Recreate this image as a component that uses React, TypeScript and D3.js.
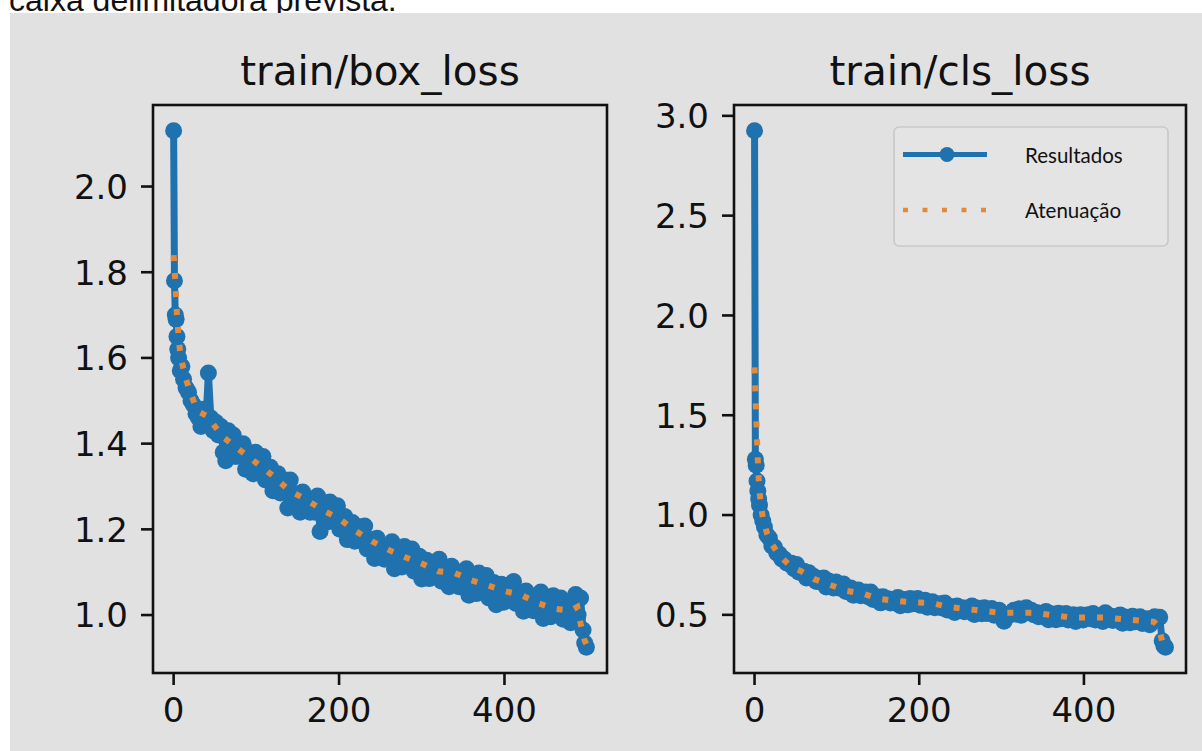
import React from 'react'
import * as d3 from 'd3'

const epochs = [
  0, 1, 2, 3, 4, 5, 6, 8, 10, 12,
  15, 18, 21, 24, 27, 30, 33, 36, 39, 42,
  45, 48, 51, 54, 57, 60, 63, 66, 69, 72,
  75, 78, 81, 84, 87, 90, 93, 96, 99, 102,
  105, 108, 111, 114, 117, 120, 123, 126, 129, 132,
  135, 138, 141, 144, 147, 150, 153, 156, 159, 162,
  165, 168, 171, 174, 177, 180, 183, 186, 189, 192,
  195, 198, 201, 204, 207, 210, 213, 216, 219, 222,
  225, 228, 231, 234, 237, 240, 243, 246, 249, 252,
  255, 258, 261, 264, 267, 270, 273, 276, 279, 282,
  285, 288, 291, 294, 297, 300, 303, 306, 309, 312,
  315, 318, 321, 324, 327, 330, 333, 336, 339, 342,
  345, 348, 351, 354, 357, 360, 363, 366, 369, 372,
  375, 378, 381, 384, 387, 390, 393, 396, 399, 402,
  405, 408, 411, 414, 417, 420, 423, 426, 429, 432,
  435, 438, 441, 444, 447, 450, 453, 456, 459, 462,
  465, 468, 471, 474, 477, 480, 483, 486, 489, 492,
  495, 497, 499,
]

const boxLoss = [
  2.13, 1.78, 1.70, 1.69, 1.65, 1.62, 1.60, 1.57, 1.58, 1.55,
  1.53, 1.52, 1.50, 1.49, 1.47, 1.46, 1.44, 1.48, 1.45, 1.565,
  1.46, 1.43, 1.45, 1.42, 1.44, 1.38, 1.36, 1.43, 1.39, 1.42,
  1.37, 1.40, 1.37, 1.40, 1.34, 1.38, 1.36, 1.33, 1.38, 1.34,
  1.355, 1.37, 1.315, 1.32, 1.345, 1.29, 1.325, 1.33, 1.285, 1.30,
  1.315, 1.25, 1.315, 1.26, 1.277, 1.283, 1.24, 1.287, 1.255, 1.272,
  1.24, 1.265, 1.24, 1.278, 1.195, 1.262, 1.24, 1.217, 1.264, 1.22,
  1.238, 1.255, 1.20, 1.205, 1.23, 1.176, 1.21, 1.216, 1.172, 1.19,
  1.206, 1.172, 1.208, 1.154, 1.17, 1.176, 1.132, 1.179, 1.146, 1.163,
  1.13, 1.157, 1.134, 1.171, 1.108, 1.156, 1.134, 1.112, 1.16, 1.118,
  1.136, 1.154, 1.102, 1.11, 1.137, 1.084, 1.121, 1.128, 1.085, 1.102,
  1.12, 1.09, 1.13, 1.079, 1.098, 1.107, 1.066, 1.114, 1.08, 1.098,
  1.066, 1.093, 1.07, 1.108, 1.046, 1.094, 1.072, 1.05, 1.098, 1.056,
  1.074, 1.092, 1.04, 1.048, 1.076, 1.024, 1.063, 1.072, 1.03, 1.05,
  1.07, 1.039, 1.078, 1.027, 1.045, 1.052, 1.009, 1.056, 1.023, 1.04,
  1.01, 1.038, 1.016, 1.054, 0.992, 1.04, 1.018, 0.996, 1.045, 1.004,
  1.022, 1.04, 0.99, 1.0, 1.03, 0.982, 1.025, 1.048, 1.0, 1.04,
  0.965, 0.935, 0.925,
]

const clsLoss = [
  2.925, 1.28, 1.25, 1.17, 1.12, 1.08, 1.05, 1.00, 0.97, 0.94,
  0.90, 0.885, 0.845, 0.84, 0.81, 0.805, 0.78, 0.78, 0.76, 0.755,
  0.758, 0.731, 0.752, 0.713, 0.72, 0.719, 0.685, 0.711, 0.685, 0.692,
  0.667, 0.682, 0.663, 0.685, 0.64, 0.669, 0.652, 0.635, 0.665, 0.635,
  0.645, 0.654, 0.617, 0.619, 0.635, 0.598, 0.622, 0.625, 0.596, 0.606,
  0.615, 0.591, 0.614, 0.577, 0.586, 0.59, 0.56, 0.591, 0.569, 0.581,
  0.559, 0.577, 0.561, 0.587, 0.546, 0.578, 0.564, 0.55, 0.582, 0.555,
  0.569, 0.582, 0.548, 0.554, 0.573, 0.538, 0.562, 0.565, 0.536, 0.546,
  0.556, 0.534, 0.559, 0.524, 0.535, 0.54, 0.512, 0.544, 0.523, 0.536,
  0.515, 0.534, 0.518, 0.544, 0.502, 0.534, 0.52, 0.505, 0.536, 0.507,
  0.52, 0.532, 0.498, 0.503, 0.523, 0.49, 0.468, 0.49, 0.497, 0.51,
  0.523, 0.503, 0.53, 0.498, 0.511, 0.535, 0.522, 0.523, 0.501, 0.512,
  0.49, 0.508, 0.492, 0.517, 0.475, 0.506, 0.491, 0.476, 0.508, 0.48,
  0.494, 0.507, 0.474, 0.48, 0.5, 0.467, 0.494, 0.5, 0.474, 0.487,
  0.5, 0.48, 0.507, 0.474, 0.487, 0.494, 0.467, 0.51, 0.498, 0.494,
  0.472, 0.49, 0.474, 0.499, 0.458, 0.489, 0.475, 0.461, 0.493, 0.465,
  0.478, 0.49, 0.457, 0.462, 0.481, 0.45, 0.473, 0.49, 0.48, 0.488,
  0.37, 0.345, 0.338,
]

// smoothed ("Atenuação") curves, read separately
const boxSmoothEpochs = [0, 2, 4, 6, 8, 10, 15, 20, 25, 30, 40, 50, 60, 70, 80, 90, 100, 120, 140, 160, 180, 200, 220, 240, 260, 280, 300, 320, 340, 360, 380, 400, 420, 440, 460, 480, 488, 492, 497, 499]
const boxSmooth = [1.84, 1.78, 1.70, 1.65, 1.61, 1.59, 1.55, 1.52, 1.495, 1.475, 1.465, 1.44, 1.415, 1.40, 1.385, 1.37, 1.355, 1.325, 1.29, 1.27, 1.245, 1.225, 1.196, 1.172, 1.152, 1.135, 1.12, 1.102, 1.098, 1.081, 1.069, 1.056, 1.047, 1.028, 1.015, 1.01, 1.019, 0.98, 0.94, 0.932]

const clsSmoothEpochs = [0, 1, 2, 3, 4, 5, 6, 8, 10, 15, 20, 25, 30, 37, 45, 56, 72, 92, 112, 131, 152, 172, 193, 214, 235, 256, 277, 300, 321, 342, 363, 384, 405, 426, 447, 470, 485, 490, 495, 499]
const clsSmooth = [1.74, 1.62, 1.50, 1.38, 1.27, 1.19, 1.12, 1.04, 0.99, 0.91, 0.86, 0.83, 0.80, 0.77, 0.74, 0.72, 0.68, 0.65, 0.62, 0.607, 0.58, 0.57, 0.562, 0.56, 0.54, 0.53, 0.52, 0.51, 0.51, 0.51, 0.497, 0.487, 0.487, 0.487, 0.478, 0.47, 0.465, 0.445, 0.37, 0.35]

const xTicks = [0, 200, 400]
const boxTicks = [1.0, 1.2, 1.4, 1.6, 1.8, 2.0]
const clsTicks = [0.5, 1.0, 1.5, 2.0, 2.5, 3.0]
const legendLabels = ['Resultados', 'Atenuação']

const BLUE = '#1f72ae'
const ORANGE = '#e3893a'
const BG = '#e1e1e1'
const FONT = 'DejaVu Sans'

const pad = ([a, b]: [number, number]): [number, number] => {
  const m = (b - a) * 0.05
  return [a - m, b + m]
}

const Panel = ({ id, left, right, title, values, smoothX, smoothY, yTicks, children }: any) => {
  const top = 105
  const bottom = 673
  const x = d3.scaleLinear().domain(pad(d3.extent(epochs) as [number, number])).range([left, right])
  const y = d3.scaleLinear().domain(pad(d3.extent(values as number[]) as [number, number])).range([bottom, top])
  const raw = d3.line<number>().x((_, i) => x(epochs[i])).y(d => y(d))(values)
  const smooth = d3.line<number>().x((_, i) => x(smoothX[i])).y(d => y(d))(smoothY)
  const fmt = d3.format('.1f')
  return (
    <g>
      <defs>
        <clipPath id={id}>
          <rect x={left} y={top} width={right - left} height={bottom - top} />
        </clipPath>
      </defs>
      <text x={(left + right) / 2} y={85} textAnchor="middle" fontFamily={FONT} fontSize={40.5} fill="#111">{title}</text>
      <g clipPath={`url(#${id})`}>
        <path d={raw!} fill="none" stroke={BLUE} strokeWidth={7} strokeLinejoin="round" />
        {values.map((v: number, i: number) => (
          <circle key={i} cx={x(epochs[i])} cy={y(v)} r={8.5} fill={BLUE} />
        ))}
        <path d={smooth!} fill="none" stroke={ORANGE} strokeWidth={6} strokeDasharray="6 12" />
      </g>
      <rect x={left} y={top} width={right - left} height={bottom - top} fill="none" stroke="#111" strokeWidth={2.6} />
      {yTicks.map((t: number) => (
        <g key={t}>
          <line x1={left - 12} x2={left} y1={y(t)} y2={y(t)} stroke="#111" strokeWidth={2.6} />
          <text x={left - 25} y={y(t)} dy={12.4} textAnchor="end" fontFamily={FONT} fontSize={34} fill="#111">{fmt(t)}</text>
        </g>
      ))}
      {xTicks.map(t => (
        <g key={t}>
          <line x1={x(t)} x2={x(t)} y1={bottom} y2={bottom + 12} stroke="#111" strokeWidth={2.6} />
          <text x={x(t)} y={722} textAnchor="middle" fontFamily={FONT} fontSize={34} fill="#111">{t}</text>
        </g>
      ))}
      {children}
    </g>
  )
}

const Legend = () => (
  <g>
    <rect x={894} y={127} width={274} height={119} rx={5} fill="#e4e4e4" stroke="#c9c9c9" strokeWidth={1.6} />
    <line x1={903} x2={987} y1={154.5} y2={154.5} stroke={BLUE} strokeWidth={4.8} />
    <circle cx={947} cy={154.5} r={7.5} fill={BLUE} />
    <text x={1025} y={163} fontFamily="Lato" fontSize={20.5} fill="#111">{legendLabels[0]}</text>
    <line x1={903} x2={987} y1={210} y2={210} stroke={ORANGE} strokeWidth={4.5} strokeDasharray="5 14.5" />
    <text x={1025} y={218} fontFamily="Lato" fontSize={20.5} fill="#111">{legendLabels[1]}</text>
  </g>
)

export default function App() {
  return (
    <svg width={1202} height={751} style={{ position: 'absolute', left: 0, top: 0, background: '#fff' }}>
      <rect x={0} y={0} width={1202} height={751} fill="#fff" />
      <text x={9} y={11} fontFamily="Liberation Sans" fontSize={32} fill="#111">caixa delimitadora prevista.</text>
      <rect x={10} y={13} width={1192} height={738} fill={BG} />
      <Panel id="clipBox" left={153} right={607} title="train/box_loss" values={boxLoss}
        smoothX={boxSmoothEpochs} smoothY={boxSmooth} yTicks={boxTicks} />
      <Panel id="clipCls" left={734} right={1186} title="train/cls_loss" values={clsLoss}
        smoothX={clsSmoothEpochs} smoothY={clsSmooth} yTicks={clsTicks}>
        <Legend />
      </Panel>
    </svg>
  )
}
